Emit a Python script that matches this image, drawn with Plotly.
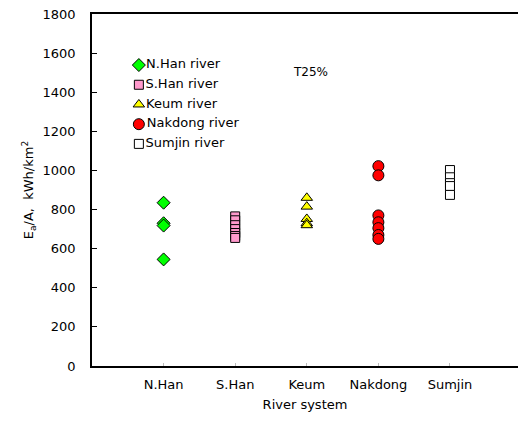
import plotly.graph_objects as go

# River systems on the x axis
rivers = ["N.Han", "S.Han", "Keum", "Nakdong", "Sumjin"]
river_pos = [1, 2, 3, 4, 5]

# Annual energy per catchment area (kWh/km^2) for each river system
nhan_vals = [835, 730, 718, 545]
shan_vals = [765, 745, 720, 700, 680, 665, 655]
keum_vals = [860, 815, 752, 730, 720]
nakdong_vals = [1022, 975, 770, 735, 705, 670, 650]
sumjin_vals = [1002, 965, 935, 920, 875]

y_ticks = [0, 200, 400, 600, 800, 1000, 1200, 1400, 1600, 1800]

series = [
    ("N.Han river", nhan_vals, 1, "diamond", "#00ff00", 10),
    ("S.Han river", shan_vals, 2, "square", "#ff99cc", 9),
    ("Keum river", keum_vals, 3, "triangle-up", "#ffff00", 10),
    ("Nakdong river", nakdong_vals, 4, "circle", "#ff0000", 11),
    ("Sumjin river", sumjin_vals, 5, "square", "#ffffff", 9),
]

font_family = "DejaVu Sans, Liberation Sans, Arial, sans-serif"

fig = go.Figure()
for name, vals, xpos, sym, col, sz in series:
    fig.add_trace(go.Scatter(
        x=[xpos] * len(vals), y=vals, mode="markers", name=name,
        showlegend=False,
        marker=dict(symbol=sym, color=col, size=sz,
                    line=dict(color="#000000", width=1)),
    ))

# Compact key drawn on an overlay axis spanning the plot area (0..1 each way)
key_x = 0.11
key_top, key_step = 0.855, 0.056
for i, (name, vals, xpos, sym, col, sz) in enumerate(series):
    fig.add_trace(go.Scatter(
        x=[key_x], y=[key_top - i * key_step], xaxis="x2", yaxis="y2",
        mode="markers+text", text=[name], textposition="middle right",
        textfont=dict(size=13, color="#000000"), showlegend=False,
        hoverinfo="skip",
        marker=dict(symbol=sym, color=col, size=sz,
                    line=dict(color="#000000", width=1)),
    ))

fig.add_annotation(x=3.05, y=1505, xref="x", yref="y", text="T25%",
                   showarrow=False, font=dict(size=12, color="#000000"))

fig.update_layout(
    width=518, height=422,
    margin=dict(l=92, r=0, t=14, b=56),
    paper_bgcolor="white", plot_bgcolor="white",
    font=dict(family=font_family, size=13, color="#000000"),
    showlegend=False,
    xaxis=dict(range=[0, 5.95], tickvals=river_pos, ticktext=rivers,
               showgrid=False, zeroline=False, showline=True,
               linecolor="#000000", linewidth=1.5, mirror=True,
               ticks="inside", ticklen=3, tickcolor="#bbbbbb",
               ticklabelstandoff=6,
               title=dict(text="River system", font=dict(size=13,
                          color="#000000"), standoff=9),
               tickfont=dict(size=13)),
    yaxis=dict(range=[0, 1800], tickvals=y_ticks,
               showgrid=False, zeroline=False, showline=True,
               linecolor="#000000", linewidth=1.5,
               ticks="inside", ticklen=5, tickcolor="#000000",
               ticklabelstandoff=12,
               title=dict(text="E<sub>a</sub>/A,  kWh/km<sup>2</sup>",
                          font=dict(size=13, color="#000000"), standoff=6),
               tickfont=dict(size=13)),
    xaxis2=dict(overlaying="x", range=[0, 1], visible=False, fixedrange=True),
    yaxis2=dict(overlaying="y", range=[0, 1], visible=False, fixedrange=True),
)

fig.write_html("out.html")
